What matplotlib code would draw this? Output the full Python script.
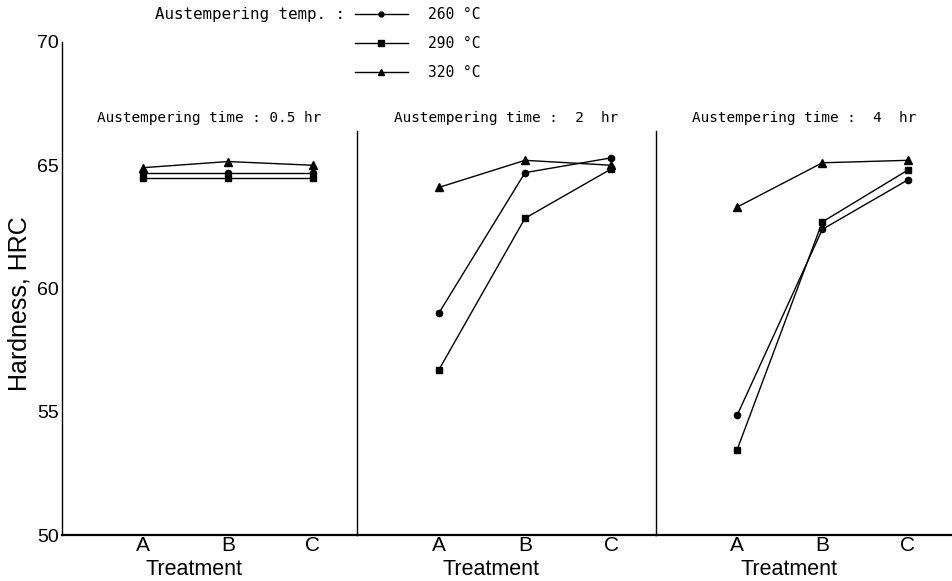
import numpy as np
import matplotlib.pyplot as plt
from matplotlib.lines import Line2D

# dados
treatments = ['A', 'B', 'C']
temps = ['260 °C', '290 °C', '320 °C']
times = ['0.5 hr', ' 2  hr', ' 4  hr']
h260 = [[64.7, 64.7, 64.7], [59.0, 64.7, 65.3], [54.85, 62.4, 64.4]]
h290 = [[64.5, 64.5, 64.5], [56.7, 62.85, 64.85], [53.45, 62.7, 64.8]]
h320 = [[64.9, 65.15, 65.0], [64.1, 65.2, 65.0], [63.3, 65.1, 65.2]]

markers = ['o', 's', '^']
msizes = [4.5, 5, 5.5]
mono = 'DejaVu Sans Mono'
sans = 'Liberation Sans'

fig = plt.figure(figsize=(9.52, 5.81), dpi=100)
W, H = 952, 581
bottom = 1 - 535 / H
height = (535 - 42) / H
edges = [62, 357, 656, 952]

x = np.arange(len(treatments))
axes = []
for i in range(3):
    ax = fig.add_axes([edges[i] / W, bottom, (edges[i + 1] - edges[i]) / W, height])
    axes.append(ax)
    for j, series in enumerate([h260, h290, h320]):
        ax.plot(x, series[i], color='black', lw=1.0, marker=markers[j],
                markersize=msizes[j], markerfacecolor='black', markeredgecolor='black')
    ax.set_ylim(50, 70)
    ax.set_xlim(-0.95, 2.52)
    ax.spines['top'].set_visible(False)
    ax.spines['right'].set_visible(False)
    ax.spines['bottom'].set_linewidth(1.6)
    ax.spines['left'].set_linewidth(1.0)
    ax.set_xticks(x)
    ax.set_xticklabels(treatments, fontfamily=sans, fontsize=15)
    ax.tick_params(axis='x', length=0, pad=1)
    ax.set_xlabel('Treatment', fontfamily=sans, fontsize=15.5)
    ax.xaxis.label.set_va('center')
    ax.xaxis.set_label_coords(0.448, -0.069)
    ax.patch.set_visible(False)
    if i == 0:
        ax.set_yticks([50, 55, 60, 65, 70])
        ax.set_yticklabels(['50', '55', '60', '65', '70'], fontfamily=sans, fontsize=14)
        ax.tick_params(axis='y', length=0, pad=2)
    else:
        ax.set_yticks([])
        ax.spines['left'].set_bounds(50, 66.4)
    ax.text(0.5, 66.9, 'Austempering time : ' + times[i], transform=ax.get_yaxis_transform(),
            ha='center', va='center', fontfamily=mono, fontsize=10.4)

fig.text(20 / W, 1 - 304 / H, 'Hardness, HRC', rotation=90, ha='center', va='center',
         fontfamily=sans, fontsize=18)

# legenda
fig.text(345 / W, 1 - 15 / H, 'Austempering temp. :', ha='right', va='center',
         fontfamily=mono, fontsize=11.4)
handles = [Line2D([], [], color='black', lw=1.0, marker=markers[j], markersize=msizes[j] - 1)
           for j in range(3)]
fig.legend(handles, temps, loc='upper left', bbox_to_anchor=(355 / W, 1 - 7 / H),
           frameon=False, prop={'family': mono, 'size': 10.5}, handlelength=3.6,
           handletextpad=1.4, labelspacing=0.95, borderpad=0, borderaxespad=0)

fig.savefig('out.png', dpi=100)
